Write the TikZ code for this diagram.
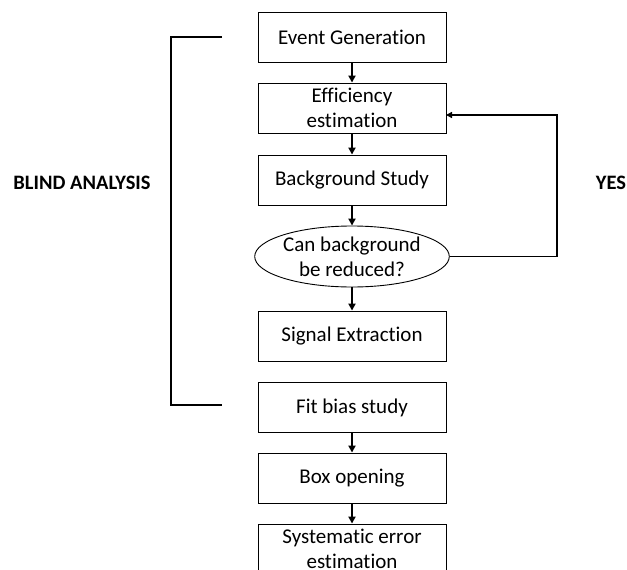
\documentclass[tikz,border=0pt]{standalone}
\usepackage{fontspec}
\setmainfont{Carlito}[Ligatures=NoCommon]
\usetikzlibrary{arrows.meta,shapes.geometric}
\begin{document}
\begin{tikzpicture}[x=1pt,y=-1pt,
  stepbox/.style={draw=black,line width=0.9pt,minimum width=188pt,minimum height=50pt,inner sep=0pt,align=center,font=\fontsize{21}{25}\selectfont},
  decision/.style={ellipse,draw=black,line width=0.9pt,minimum width=189pt,minimum height=61pt,inner sep=0pt,align=center,font=\fontsize{21}{25}\selectfont},
  flow/.style={line width=2pt,-{Triangle[length=7pt,width=7pt]}},
  side/.style={font=\bfseries\fontsize{20.5}{22}\selectfont}]
\useasboundingbox (0,0) rectangle (627,570);
\node[stepbox] (gen) at (352,37) {Event Generation};
\node[stepbox] (eff) at (352,108) {Efficiency\\estimation};
\node[stepbox] (bkg) at (352,180) {Background Study};
\node[decision] (can) at (352,256.5) {Can background\\be reduced?};
\node[stepbox] (sig) at (352,336) {Signal Extraction};
\node[stepbox] (fit) at (352,407.5) {Fit bias study};
\node[stepbox] (box) at (352,478) {Box opening};
\node[stepbox] (sys) at (352,549) {Systematic error\\estimation};
\draw[flow] (gen) -- (eff);
\draw[flow] (eff) -- (bkg);
\draw[flow] (bkg) -- (can);
\draw[flow] (can) -- (sig);
\draw[flow] (fit) -- (box);
\draw[flow] (box) -- (sys);
\coordinate (fbr) at (557,256.5);
\coordinate (fbt) at (557,115);
\coordinate (effin) at (446,115);
\draw[line width=1.5pt,-{Triangle[length=6pt,width=6pt]}] (can.east) -- (fbr) -- (fbt) -- (effin);
\coordinate (bt) at (222,37);
\coordinate (btl) at (171,37);
\coordinate (bbl) at (171,405);
\coordinate (bb) at (222,405);
\draw[line width=1.5pt] (bt) -- (btl) -- (bbl) -- (bb);
\node[side] (blind) at (82,183) {BLIND ANALYSIS};
\node[side] (yes) at (611,183) {YES};
\end{tikzpicture}
\end{document}
